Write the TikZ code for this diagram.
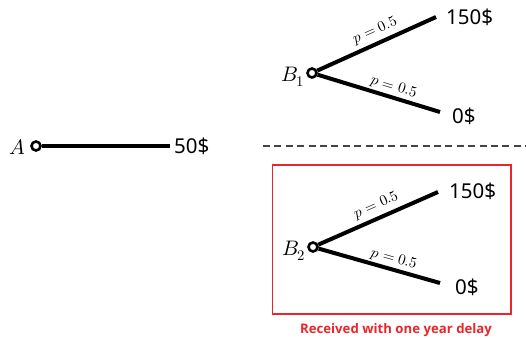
\documentclass[tikz,border=0pt]{standalone}
\usepackage{fontspec}
\setmainfont{Noto Sans}
\newfontfamily\redfont{Open Sans}
\usepackage{unicode-math}
\setmathfont{Latin Modern Math}
\definecolor{boxred}{HTML}{E8262B}
\definecolor{dashgray}{HTML}{444444}
\begin{document}
\begin{tikzpicture}[x=1pt,y=-1pt,
  chance/.style={circle,draw,line width=2.6pt,inner sep=0pt,minimum size=9pt,fill=white},
  branch/.style={line width=4pt},
  money/.style={anchor=west,inner sep=0pt,font=\fontsize{20.5}{21}\selectfont},
  mlabel/.style={anchor=east,inner sep=0pt,font=\fontsize{21}{21}\selectfont},
  prob/.style={sloped,above,inner sep=4pt,font=\fontsize{15}{15}\selectfont}]
\useasboundingbox (0,0) rectangle (526,338);
% A
\node[chance] (A) at (36,146) {};
\coordinate (Aend) at (170,146);
\draw[branch] (A) -- (Aend);
\node[mlabel] (Alab) at (25,147) {$A$};
\node[money] (A50) at (174,146) {50\$};
% B1
\node[chance] (B1) at (312,73) {};
\coordinate (B1u) at (436,17);
\coordinate (B1d) at (440,112);
\draw[branch] (B1) -- node[prob,pos=0.53] (p1) {$p=0.5$} (B1u);
\draw[branch] (B1) -- node[prob,pos=0.6,inner sep=2pt] (p2) {$p=0.5$} (B1d);
\node[mlabel] (B1lab) at (305,77) {$B_1$};
\node[money] (B1m) at (446,17) {150\$};
\node[money] (B1z) at (452,116) {0\$};
% dashed separator
\coordinate (d1) at (263,146);
\coordinate (d2) at (526,146);
\draw[dashgray,line width=1.6pt,dash pattern=on 7pt off 4.4pt] (d1) -- (d2);
% B2 box
\draw[boxred,line width=1.6pt] (272.5,165) rectangle (511,314);
\node[chance] (B2) at (313,247) {};
\coordinate (B2u) at (438,192);
\coordinate (B2d) at (440,283);
\draw[branch] (B2) -- node[prob,pos=0.53] (p3) {$p=0.5$} (B2u);
\draw[branch] (B2) -- node[prob,pos=0.6,inner sep=2pt] (p4) {$p=0.5$} (B2d);
\node[mlabel] (B2lab) at (306,251) {$B_2$};
\node[money] (B2m) at (449,191) {150\$};
\node[money] (B2z) at (455,287) {0\$};
\node[boxred,inner sep=0pt,font=\redfont\bfseries\fontsize{13.2}{14}\selectfont] (delay) at (396,330) {Received with one year delay};
\end{tikzpicture}
\end{document}
